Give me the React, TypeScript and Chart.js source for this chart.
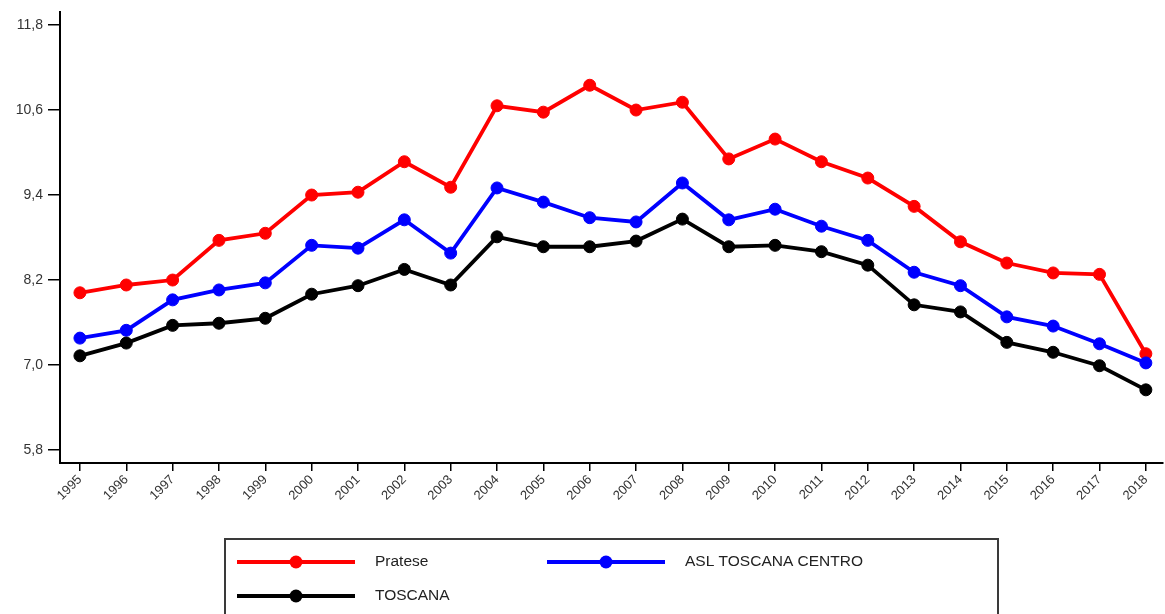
import React, { useEffect, useRef } from "react";
import { Chart, registerables } from "chart.js";

Chart.register(...registerables);

const years = [1995, 1996, 1997, 1998, 1999, 2000, 2001, 2002, 2003, 2004, 2005, 2006, 2007, 2008, 2009, 2010, 2011, 2012, 2013, 2014, 2015, 2016, 2017, 2018];
const pratese = [8.02, 8.13, 8.2, 8.76, 8.86, 9.4, 9.44, 9.87, 9.51, 10.66, 10.57, 10.95, 10.6, 10.71, 9.91, 10.19, 9.87, 9.64, 9.24, 8.74, 8.44, 8.3, 8.28, 7.16];
const aslToscanaCentro = [7.38, 7.49, 7.92, 8.06, 8.16, 8.69, 8.65, 9.05, 8.58, 9.5, 9.3, 9.08, 9.02, 9.57, 9.05, 9.2, 8.96, 8.76, 8.31, 8.12, 7.68, 7.55, 7.3, 7.03];
const toscana = [7.13, 7.31, 7.56, 7.59, 7.66, 8.0, 8.12, 8.35, 8.13, 8.81, 8.67, 8.67, 8.75, 9.06, 8.67, 8.69, 8.6, 8.41, 7.85, 7.75, 7.32, 7.18, 6.99, 6.65];
const yTicks = [5.8, 7.0, 8.2, 9.4, 10.6, 11.8];
const seriesLabels = ["Pratese", "ASL TOSCANA CENTRO", "TOSCANA"];
const seriesColors = ["#ff0000", "#0000ff", "#000000"];

const FONT = '"Liberation Sans", Arial, sans-serif';

const legendPlugin = {
  id: "boxLegend",
  afterDraw(chart: any) {
    const ctx = chart.ctx;
    ctx.save();
    ctx.strokeStyle = "#3a3a3a";
    ctx.lineWidth = 2;
    ctx.strokeRect(225, 539, 773, 100);
    const slots = [
      { x: 237, y: 562 },
      { x: 547, y: 562 },
      { x: 237, y: 596 },
    ];
    chart.data.datasets.forEach((ds: any, i: number) => {
      const s = slots[i];
      ctx.strokeStyle = ds.borderColor;
      ctx.lineWidth = 4;
      ctx.beginPath();
      ctx.moveTo(s.x, s.y);
      ctx.lineTo(s.x + 118, s.y);
      ctx.stroke();
      ctx.fillStyle = ds.borderColor;
      ctx.beginPath();
      ctx.arc(s.x + 59, s.y, 6.5, 0, Math.PI * 2);
      ctx.fill();
      ctx.fillStyle = "#222";
      ctx.font = "15.5px " + FONT;
      ctx.textBaseline = "middle";
      ctx.textAlign = "left";
      ctx.fillText(ds.label, s.x + 138, s.y);
    });
    ctx.restore();
  },
};

export default function App() {
  const ref = useRef<HTMLCanvasElement | null>(null);
  useEffect(() => {
    if (!ref.current) return;
    const series = [pratese, aslToscanaCentro, toscana];
    const chart = new Chart(ref.current, {
      type: "line",
      data: {
        datasets: series.map((vals, i) => ({
          label: seriesLabels[i],
          data: years.map((y, j) => ({ x: y, y: vals[j] })),
          borderColor: seriesColors[i],
          backgroundColor: seriesColors[i],
          pointBackgroundColor: seriesColors[i],
          pointBorderColor: seriesColors[i],
          pointRadius: 6,
          pointBorderWidth: 1,
          borderWidth: 3.8,
          tension: 0,
          order: 3 - i,
          clip: false,
        })),
      },
      options: {
        responsive: false,
        animation: false,
        devicePixelRatio: 1,
        layout: { autoPadding: false, padding: { top: 12, right: 2, left: 0, bottom: 0 } },
        plugins: {
          legend: { display: false },
          tooltip: { enabled: false },
          title: { display: false },
        },
        scales: {
          x: {
            type: "linear",
            min: 1994.57,
            max: 2018.37,
            afterBuildTicks: (scale: any) => {
              scale.ticks = years.map((v) => ({ value: v }));
            },
            afterFit: (scale: any) => {
              scale.height = 151;
              scale.paddingLeft = 0;
              scale.paddingRight = 0;
            },
            grid: { display: true, drawOnChartArea: false, drawTicks: true, tickLength: 8, color: "#000", lineWidth: 1.5 },
            border: { display: true, color: "#000", width: 2 },
            ticks: {
              minRotation: 45,
              maxRotation: 45,
              autoSkip: false,
              color: "#333",
              font: { family: FONT, size: 13 },
              padding: 1,
              callback: (v: any) => String(v),
            },
          },
          y: {
            type: "linear",
            min: 5.617,
            max: 11.984,
            afterBuildTicks: (scale: any) => {
              scale.ticks = yTicks.map((v) => ({ value: v }));
            },
            afterFit: (scale: any) => {
              scale.width = 60;
              scale.paddingTop = 0;
              scale.paddingBottom = 0;
            },
            grid: { display: true, drawOnChartArea: false, drawTicks: true, tickLength: 12, color: "#000", lineWidth: 1.5 },
            border: { display: true, color: "#000", width: 2 },
            ticks: {
              color: "#333",
              font: { family: FONT, size: 14 },
              padding: 5,
              callback: (v: any) => Number(v).toFixed(1).replace(".", ","),
            },
          },
        },
      },
      plugins: [legendPlugin],
    });
    return () => chart.destroy();
  }, []);
  return (
    <div style={{ position: "fixed", left: 0, top: 0, width: 1165, height: 614, background: "#fff" }}>
      <canvas ref={ref} width={1165} height={614} style={{ width: 1165, height: 614, display: "block" }} />
    </div>
  );
}
